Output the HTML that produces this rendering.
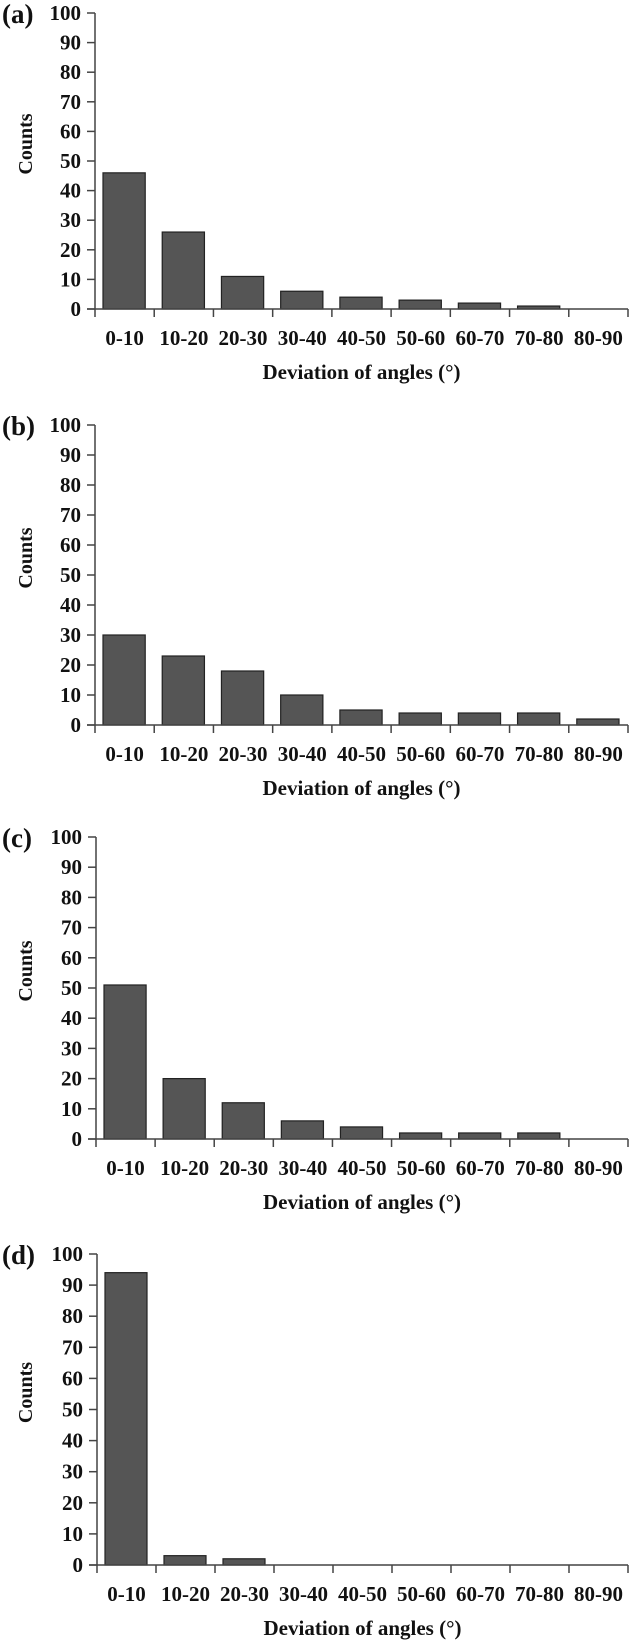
<!DOCTYPE html>
<html><head><meta charset="utf-8"><style>
html,body{margin:0;padding:0;background:#fff;}
svg{display:block;}
text{font-family:"Liberation Serif",serif;font-weight:bold;fill:#111;}
</style></head><body>
<svg id="chart" width="635" height="1640" viewBox="0 0 635 1640"></svg>
<script>
const categories=["0-10","10-20","20-30","30-40","40-50","50-60","60-70","70-80","80-90"];
const yTicks=[0,10,20,30,40,50,60,70,80,90,100];
const panelLabels=["(a)","(b)","(c)","(d)"];
const seriesA=[46,26,11,6,4,3,2,1,0];
const seriesB=[30,23,18,10,5,4,4,4,2];
const seriesC=[51,20,12,6,4,2,2,2,0];
const seriesD=[94,3,2,0,0,0,0,0,0];
const allSeries=[seriesA,seriesB,seriesC,seriesD];
const panels=[{top:13,bottom:309,x0:95},{top:425,bottom:725,x0:95},{top:837,bottom:1139,x0:96},{top:1254,bottom:1565,x0:97}];
const svg=document.getElementById('chart');
const NS='http://www.w3.org/2000/svg';
function mk(tag,attrs,parent){const e=document.createElementNS(NS,tag);for(const k in attrs)e.setAttribute(k,attrs[k]);(parent||svg).appendChild(e);return e;}
const x1=628;
panels.forEach((p,pi)=>{
  const g=mk('g',{});
  
  
  const cw=(x1-p.x0)/categories.length;
  const yScale=v=>p.bottom-(v/100)*(p.bottom-p.top);
  const xScale=i=>p.x0+i*cw;
  allSeries[pi].forEach((v,i)=>{
    if(v<=0)return;
    const r=mk('rect',{x:xScale(i)+8,y:yScale(v),width:cw-17,height:p.bottom-yScale(v),fill:'#555',stroke:'#222','stroke-width':1.2},g);
    
    
  });
  const ya=mk('line',{x1:p.x0,y1:p.top,x2:p.x0,y2:p.bottom+8,stroke:'#444','stroke-width':1.5},g);
  
  
  const xa=mk('line',{x1:p.x0-8,y1:p.bottom,x2:x1,y2:p.bottom,stroke:'#444','stroke-width':1.5},g);
  
  
  yTicks.forEach(t=>{
    const y=yScale(t);
    mk('line',{x1:p.x0-8,y1:y,x2:p.x0,y2:y,stroke:'#444','stroke-width':1.5},g);
    const tx=mk('text',{x:p.x0-14,y:y+7,'text-anchor':'end','font-size':21},g);
    tx.textContent=t;
    
    
  });
  for(let i=1;i<=categories.length;i++){
    mk('line',{x1:xScale(i),y1:p.bottom,x2:xScale(i),y2:p.bottom+8,stroke:'#444','stroke-width':1.5},g);
  }
  categories.forEach((c,i)=>{
    const tx=mk('text',{x:xScale(i)+cw/2,y:p.bottom+36,'text-anchor':'middle','font-size':21},g);
    tx.textContent=c;
    
    
  });
  const xt=mk('text',{x:(p.x0+x1)/2,y:p.bottom+70,'text-anchor':'middle','font-size':21},g);
  xt.textContent='Deviation of angles (°)';
  
  
  const cy=(p.top+p.bottom)/2-17;
  const yt=mk('text',{x:0,y:0,'text-anchor':'middle','font-size':20,transform:'translate(32,'+cy+') rotate(-90)'},g);
  yt.textContent='Counts';
  
  
  const pl=mk('text',{x:2,y:p.top+10,'font-size':27},g);
  pl.textContent=panelLabels[pi];
  
  
});
</script>
</body></html>
